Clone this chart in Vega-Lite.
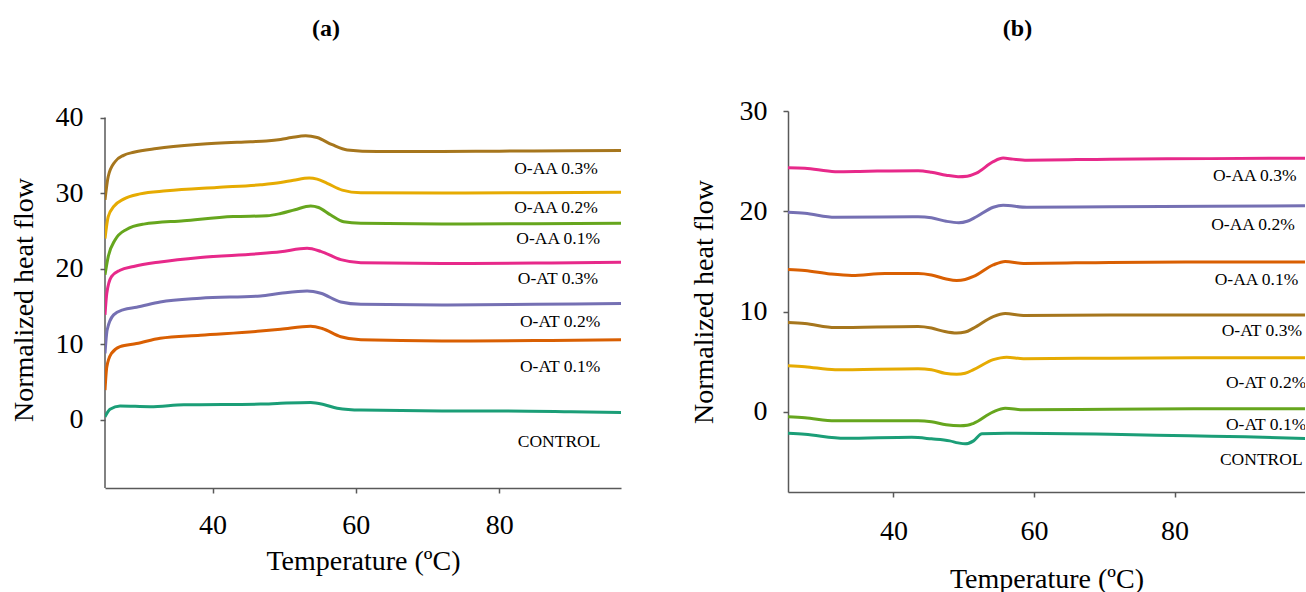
{
  "$schema": "https://vega.github.io/schema/vega-lite/v6.json",
  "background": "white",
  "padding": {"left": 10, "top": 16, "right": 0, "bottom": 0},
  "columns": 2,
  "align": "none",
  "spacing": 69,
  "resolve": {"scale": {"color": "independent"}},
  "config": {
    "font": "Liberation Serif",
    "view": {"stroke": null},
    "axis": {
      "grid": false,
      "domainColor": "#595959",
      "domainWidth": 1.5,
      "tickColor": "#595959",
      "tickWidth": 1.5,
      "tickSize": 5,
      "labelFont": "Liberation Serif",
      "labelFontSize": 28,
      "labelColor": "black",
      "titleFont": "Liberation Serif",
      "titleFontSize": 28,
      "titleFontWeight": "normal",
      "titleColor": "black"
    },
    "title": {"font": "Liberation Serif", "fontSize": 24, "fontWeight": "bold", "color": "black", "anchor": "middle", "baseline": "bottom"}
  },
  "datasets": {
    "a": [
      {"s": "O-AA 0.3%", "x": 25, "y": 29.1}, {"s": "O-AA 0.3%", "x": 25.45, "y": 32.2}, {"s": "O-AA 0.3%", "x": 26.4, "y": 34.15}, {"s": "O-AA 0.3%", "x": 27.6, "y": 35.0}, {"s": "O-AA 0.3%", "x": 29.0, "y": 35.4}, {"s": "O-AA 0.3%", "x": 32.2, "y": 35.9}, {"s": "O-AA 0.3%", "x": 38.3, "y": 36.45}, {"s": "O-AA 0.3%", "x": 45.3, "y": 36.8}, {"s": "O-AA 0.3%", "x": 47.5, "y": 36.9}, {"s": "O-AA 0.3%", "x": 49.5, "y": 37.1}, {"s": "O-AA 0.3%", "x": 51.0, "y": 37.35}, {"s": "O-AA 0.3%", "x": 53.0, "y": 37.6}, {"s": "O-AA 0.3%", "x": 54.6, "y": 37.35}, {"s": "O-AA 0.3%", "x": 56.7, "y": 36.4}, {"s": "O-AA 0.3%", "x": 58.8, "y": 35.7}, {"s": "O-AA 0.3%", "x": 63, "y": 35.5}, {"s": "O-AA 0.3%", "x": 72, "y": 35.5}, {"s": "O-AA 0.3%", "x": 80, "y": 35.55}, {"s": "O-AA 0.3%", "x": 90, "y": 35.6}, {"s": "O-AA 0.3%", "x": 97, "y": 35.65},
      {"s": "O-AA 0.2%", "x": 25, "y": 24.0}, {"s": "O-AA 0.2%", "x": 25.45, "y": 26.9}, {"s": "O-AA 0.2%", "x": 26.2, "y": 28.2}, {"s": "O-AA 0.2%", "x": 27.6, "y": 29.2}, {"s": "O-AA 0.2%", "x": 29.9, "y": 29.9}, {"s": "O-AA 0.2%", "x": 33.6, "y": 30.3}, {"s": "O-AA 0.2%", "x": 40.6, "y": 30.75}, {"s": "O-AA 0.2%", "x": 46.7, "y": 31.1}, {"s": "O-AA 0.2%", "x": 49.5, "y": 31.4}, {"s": "O-AA 0.2%", "x": 51.3, "y": 31.7}, {"s": "O-AA 0.2%", "x": 53.5, "y": 32.0}, {"s": "O-AA 0.2%", "x": 54.6, "y": 31.85}, {"s": "O-AA 0.2%", "x": 56, "y": 31.3}, {"s": "O-AA 0.2%", "x": 58.1, "y": 30.4}, {"s": "O-AA 0.2%", "x": 60.7, "y": 30.05}, {"s": "O-AA 0.2%", "x": 72, "y": 30.0}, {"s": "O-AA 0.2%", "x": 85, "y": 30.05}, {"s": "O-AA 0.2%", "x": 97, "y": 30.1},
      {"s": "O-AA 0.1%", "x": 25, "y": 19.2}, {"s": "O-AA 0.1%", "x": 25.45, "y": 21.6}, {"s": "O-AA 0.1%", "x": 26.4, "y": 23.8}, {"s": "O-AA 0.1%", "x": 28.0, "y": 25.2}, {"s": "O-AA 0.1%", "x": 30.4, "y": 25.9}, {"s": "O-AA 0.1%", "x": 36, "y": 26.35}, {"s": "O-AA 0.1%", "x": 42.9, "y": 26.9}, {"s": "O-AA 0.1%", "x": 47.6, "y": 27.0}, {"s": "O-AA 0.1%", "x": 49.5, "y": 27.3}, {"s": "O-AA 0.1%", "x": 51.5, "y": 27.8}, {"s": "O-AA 0.1%", "x": 53.7, "y": 28.3}, {"s": "O-AA 0.1%", "x": 54.8, "y": 28.1}, {"s": "O-AA 0.1%", "x": 56.5, "y": 27.1}, {"s": "O-AA 0.1%", "x": 58.3, "y": 26.2}, {"s": "O-AA 0.1%", "x": 60.7, "y": 26.0}, {"s": "O-AA 0.1%", "x": 72, "y": 25.9}, {"s": "O-AA 0.1%", "x": 85, "y": 25.95}, {"s": "O-AA 0.1%", "x": 97, "y": 26.0},
      {"s": "O-AT 0.3%", "x": 25, "y": 13.9}, {"s": "O-AT 0.3%", "x": 25.25, "y": 16.75}, {"s": "O-AT 0.3%", "x": 25.9, "y": 18.95}, {"s": "O-AT 0.3%", "x": 27.1, "y": 19.8}, {"s": "O-AT 0.3%", "x": 29, "y": 20.3}, {"s": "O-AT 0.3%", "x": 32.7, "y": 20.9}, {"s": "O-AT 0.3%", "x": 38.3, "y": 21.5}, {"s": "O-AT 0.3%", "x": 46.7, "y": 22.0}, {"s": "O-AT 0.3%", "x": 49.5, "y": 22.25}, {"s": "O-AT 0.3%", "x": 53.2, "y": 22.7}, {"s": "O-AT 0.3%", "x": 55.1, "y": 22.3}, {"s": "O-AT 0.3%", "x": 57.9, "y": 21.2}, {"s": "O-AT 0.3%", "x": 60.7, "y": 20.8}, {"s": "O-AT 0.3%", "x": 72, "y": 20.7}, {"s": "O-AT 0.3%", "x": 85, "y": 20.75}, {"s": "O-AT 0.3%", "x": 97, "y": 20.85},
      {"s": "O-AT 0.2%", "x": 25, "y": 8.8}, {"s": "O-AT 0.2%", "x": 25.3, "y": 11.9}, {"s": "O-AT 0.2%", "x": 26.2, "y": 13.9}, {"s": "O-AT 0.2%", "x": 27.6, "y": 14.6}, {"s": "O-AT 0.2%", "x": 29.4, "y": 14.9}, {"s": "O-AT 0.2%", "x": 32.7, "y": 15.6}, {"s": "O-AT 0.2%", "x": 38.3, "y": 16.1}, {"s": "O-AT 0.2%", "x": 46.7, "y": 16.4}, {"s": "O-AT 0.2%", "x": 49.5, "y": 16.75}, {"s": "O-AT 0.2%", "x": 53.2, "y": 17.05}, {"s": "O-AT 0.2%", "x": 55.1, "y": 16.75}, {"s": "O-AT 0.2%", "x": 57.9, "y": 15.6}, {"s": "O-AT 0.2%", "x": 60.7, "y": 15.3}, {"s": "O-AT 0.2%", "x": 72, "y": 15.2}, {"s": "O-AT 0.2%", "x": 85, "y": 15.3}, {"s": "O-AT 0.2%", "x": 97, "y": 15.4},
      {"s": "O-AT 0.1%", "x": 25, "y": 3.95}, {"s": "O-AT 0.1%", "x": 25.25, "y": 7.0}, {"s": "O-AT 0.1%", "x": 25.9, "y": 8.8}, {"s": "O-AT 0.1%", "x": 27.1, "y": 9.7}, {"s": "O-AT 0.1%", "x": 29.4, "y": 10.1}, {"s": "O-AT 0.1%", "x": 32.7, "y": 10.8}, {"s": "O-AT 0.1%", "x": 38.3, "y": 11.2}, {"s": "O-AT 0.1%", "x": 46.7, "y": 11.75}, {"s": "O-AT 0.1%", "x": 49.5, "y": 12.0}, {"s": "O-AT 0.1%", "x": 53.7, "y": 12.4}, {"s": "O-AT 0.1%", "x": 55.3, "y": 12.1}, {"s": "O-AT 0.1%", "x": 57.9, "y": 11.0}, {"s": "O-AT 0.1%", "x": 60.7, "y": 10.6}, {"s": "O-AT 0.1%", "x": 72, "y": 10.45}, {"s": "O-AT 0.1%", "x": 85, "y": 10.5}, {"s": "O-AT 0.1%", "x": 97, "y": 10.6},
      {"s": "CONTROL", "x": 25, "y": 0.4}, {"s": "CONTROL", "x": 25.7, "y": 1.4}, {"s": "CONTROL", "x": 27.1, "y": 1.85}, {"s": "CONTROL", "x": 31.3, "y": 1.75}, {"s": "CONTROL", "x": 36, "y": 2.0}, {"s": "CONTROL", "x": 46.7, "y": 2.1}, {"s": "CONTROL", "x": 49.5, "y": 2.2}, {"s": "CONTROL", "x": 53.7, "y": 2.3}, {"s": "CONTROL", "x": 55.5, "y": 2.05}, {"s": "CONTROL", "x": 57.4, "y": 1.55}, {"s": "CONTROL", "x": 60.7, "y": 1.3}, {"s": "CONTROL", "x": 72, "y": 1.2}, {"s": "CONTROL", "x": 80, "y": 1.2}, {"s": "CONTROL", "x": 90, "y": 1.1}, {"s": "CONTROL", "x": 97, "y": 1.0}
    ],
    "la": [
      {"t": "O-AA 0.3%", "x": 82.1, "y": 33.2},
      {"t": "O-AA 0.2%", "x": 82.1, "y": 28.0},
      {"t": "O-AA 0.1%", "x": 82.4, "y": 23.9},
      {"t": "O-AT 0.3%", "x": 82.6, "y": 18.6},
      {"t": "O-AT 0.2%", "x": 82.9, "y": 12.95},
      {"t": "O-AT 0.1%", "x": 82.9, "y": 7.0},
      {"t": "CONTROL", "x": 82.6, "y": -2.9}
    ],
    "ra": [
      {"x": 25, "y": -9, "y2": 40}
    ],
    "b": [
      {"s": "O-AA 0.3%", "x": 25, "y": 24.35}, {"s": "O-AA 0.3%", "x": 27.4, "y": 24.3}, {"s": "O-AA 0.3%", "x": 31.7, "y": 23.95}, {"s": "O-AA 0.3%", "x": 36.4, "y": 24.0}, {"s": "O-AA 0.3%", "x": 43.5, "y": 24.05}, {"s": "O-AA 0.3%", "x": 45.4, "y": 23.9}, {"s": "O-AA 0.3%", "x": 47.5, "y": 23.6}, {"s": "O-AA 0.3%", "x": 49.2, "y": 23.45}, {"s": "O-AA 0.3%", "x": 50.5, "y": 23.5}, {"s": "O-AA 0.3%", "x": 51.8, "y": 23.8}, {"s": "O-AA 0.3%", "x": 54.2, "y": 24.95}, {"s": "O-AA 0.3%", "x": 55.6, "y": 25.3}, {"s": "O-AA 0.3%", "x": 57, "y": 25.2}, {"s": "O-AA 0.3%", "x": 59, "y": 25.1}, {"s": "O-AA 0.3%", "x": 70.8, "y": 25.2}, {"s": "O-AA 0.3%", "x": 85, "y": 25.25}, {"s": "O-AA 0.3%", "x": 100, "y": 25.3},
      {"s": "O-AA 0.2%", "x": 25, "y": 19.9}, {"s": "O-AA 0.2%", "x": 27.4, "y": 19.8}, {"s": "O-AA 0.2%", "x": 31.7, "y": 19.4}, {"s": "O-AA 0.2%", "x": 43.5, "y": 19.45}, {"s": "O-AA 0.2%", "x": 45.4, "y": 19.35}, {"s": "O-AA 0.2%", "x": 47.5, "y": 19.0}, {"s": "O-AA 0.2%", "x": 49.3, "y": 18.85}, {"s": "O-AA 0.2%", "x": 50.5, "y": 19.0}, {"s": "O-AA 0.2%", "x": 51.8, "y": 19.45}, {"s": "O-AA 0.2%", "x": 54.2, "y": 20.4}, {"s": "O-AA 0.2%", "x": 55.6, "y": 20.6}, {"s": "O-AA 0.2%", "x": 59, "y": 20.4}, {"s": "O-AA 0.2%", "x": 70.8, "y": 20.45}, {"s": "O-AA 0.2%", "x": 85, "y": 20.5}, {"s": "O-AA 0.2%", "x": 100, "y": 20.55},
      {"s": "O-AA 0.1%", "x": 25, "y": 14.2}, {"s": "O-AA 0.1%", "x": 27.4, "y": 14.1}, {"s": "O-AA 0.1%", "x": 31, "y": 13.75}, {"s": "O-AA 0.1%", "x": 34.1, "y": 13.6}, {"s": "O-AA 0.1%", "x": 38.8, "y": 13.8}, {"s": "O-AA 0.1%", "x": 43.5, "y": 13.8}, {"s": "O-AA 0.1%", "x": 45.4, "y": 13.65}, {"s": "O-AA 0.1%", "x": 47.5, "y": 13.25}, {"s": "O-AA 0.1%", "x": 49.0, "y": 13.1}, {"s": "O-AA 0.1%", "x": 50.2, "y": 13.2}, {"s": "O-AA 0.1%", "x": 51.4, "y": 13.5}, {"s": "O-AA 0.1%", "x": 54.2, "y": 14.65}, {"s": "O-AA 0.1%", "x": 55.9, "y": 15.0}, {"s": "O-AA 0.1%", "x": 58.5, "y": 14.8}, {"s": "O-AA 0.1%", "x": 70.8, "y": 14.9}, {"s": "O-AA 0.1%", "x": 85, "y": 14.95}, {"s": "O-AA 0.1%", "x": 100, "y": 14.95},
      {"s": "O-AT 0.3%", "x": 25, "y": 8.9}, {"s": "O-AT 0.3%", "x": 27.4, "y": 8.8}, {"s": "O-AT 0.3%", "x": 31.7, "y": 8.4}, {"s": "O-AT 0.3%", "x": 43.5, "y": 8.5}, {"s": "O-AT 0.3%", "x": 45.4, "y": 8.35}, {"s": "O-AT 0.3%", "x": 47.3, "y": 8.0}, {"s": "O-AT 0.3%", "x": 49, "y": 7.85}, {"s": "O-AT 0.3%", "x": 50.2, "y": 7.95}, {"s": "O-AT 0.3%", "x": 51.4, "y": 8.35}, {"s": "O-AT 0.3%", "x": 54.2, "y": 9.5}, {"s": "O-AT 0.3%", "x": 55.9, "y": 9.8}, {"s": "O-AT 0.3%", "x": 58.5, "y": 9.6}, {"s": "O-AT 0.3%", "x": 70.8, "y": 9.65}, {"s": "O-AT 0.3%", "x": 85, "y": 9.65}, {"s": "O-AT 0.3%", "x": 100, "y": 9.65},
      {"s": "O-AT 0.2%", "x": 25, "y": 4.6}, {"s": "O-AT 0.2%", "x": 27.4, "y": 4.5}, {"s": "O-AT 0.2%", "x": 31.7, "y": 4.2}, {"s": "O-AT 0.2%", "x": 43.5, "y": 4.3}, {"s": "O-AT 0.2%", "x": 45.4, "y": 4.2}, {"s": "O-AT 0.2%", "x": 47.3, "y": 3.85}, {"s": "O-AT 0.2%", "x": 49, "y": 3.75}, {"s": "O-AT 0.2%", "x": 50.2, "y": 3.85}, {"s": "O-AT 0.2%", "x": 51.4, "y": 4.2}, {"s": "O-AT 0.2%", "x": 54.2, "y": 5.2}, {"s": "O-AT 0.2%", "x": 56.1, "y": 5.45}, {"s": "O-AT 0.2%", "x": 58.5, "y": 5.3}, {"s": "O-AT 0.2%", "x": 70.8, "y": 5.35}, {"s": "O-AT 0.2%", "x": 85, "y": 5.4}, {"s": "O-AT 0.2%", "x": 100, "y": 5.4},
      {"s": "O-AT 0.1%", "x": 25, "y": -0.5}, {"s": "O-AT 0.1%", "x": 27.4, "y": -0.6}, {"s": "O-AT 0.1%", "x": 31.7, "y": -0.9}, {"s": "O-AT 0.1%", "x": 43.5, "y": -0.9}, {"s": "O-AT 0.1%", "x": 45.4, "y": -1.0}, {"s": "O-AT 0.1%", "x": 47.5, "y": -1.3}, {"s": "O-AT 0.1%", "x": 49.5, "y": -1.4}, {"s": "O-AT 0.1%", "x": 50.5, "y": -1.35}, {"s": "O-AT 0.1%", "x": 51.4, "y": -1.15}, {"s": "O-AT 0.1%", "x": 54.2, "y": 0.0}, {"s": "O-AT 0.1%", "x": 55.9, "y": 0.35}, {"s": "O-AT 0.1%", "x": 58.5, "y": 0.2}, {"s": "O-AT 0.1%", "x": 70.8, "y": 0.25}, {"s": "O-AT 0.1%", "x": 85, "y": 0.3}, {"s": "O-AT 0.1%", "x": 100, "y": 0.3},
      {"s": "CONTROL", "x": 25, "y": -2.15}, {"s": "CONTROL", "x": 27.4, "y": -2.25}, {"s": "CONTROL", "x": 33.1, "y": -2.65}, {"s": "CONTROL", "x": 42.6, "y": -2.55}, {"s": "CONTROL", "x": 45.4, "y": -2.7}, {"s": "CONTROL", "x": 48.0, "y": -2.9}, {"s": "CONTROL", "x": 49.2, "y": -3.1}, {"s": "CONTROL", "x": 50.2, "y": -3.2}, {"s": "CONTROL", "x": 51.4, "y": -2.9}, {"s": "CONTROL", "x": 52.6, "y": -2.2}, {"s": "CONTROL", "x": 56.1, "y": -2.15}, {"s": "CONTROL", "x": 70.8, "y": -2.25}, {"s": "CONTROL", "x": 82, "y": -2.4}, {"s": "CONTROL", "x": 90, "y": -2.5}, {"s": "CONTROL", "x": 100, "y": -2.7}
    ],
    "lb": [
      {"t": "O-AA 0.3%", "x": 85.45, "y": 23.5},
      {"t": "O-AA 0.2%", "x": 85.2, "y": 18.6},
      {"t": "O-AA 0.1%", "x": 85.7, "y": 13.15},
      {"t": "O-AT 0.3%", "x": 86.7, "y": 8.07},
      {"t": "O-AT 0.2%", "x": 87.3, "y": 2.9},
      {"t": "O-AT 0.1%", "x": 87.3, "y": -1.3},
      {"t": "CONTROL", "x": 86.45, "y": -4.8}
    ]
  },
  "concat": [
    {
      "width": 516,
      "height": 377,
      "title": {"text": "(a)", "offset": 63, "dx": -37},
      "layer": [
        {
          "data": {"name": "ra"},
          "mark": {"type": "rule", "color": "#595959", "strokeWidth": 1.5},
          "encoding": {
            "x": {"field": "x", "type": "quantitative"},
            "y": {"field": "y", "type": "quantitative"},
            "y2": {"field": "y2"}
          }
        },
        {
          "data": {"name": "a"},
          "mark": {"type": "line", "interpolate": "monotone", "strokeWidth": 3, "clip": true},
          "encoding": {
            "x": {"field": "x", "type": "quantitative", "scale": {"domain": [25, 97], "nice": false, "zero": false},
              "axis": {"title": "Temperature (ºC)", "values": [40, 60, 80], "labelPadding": 18, "titlePadding": 8}},
            "y": {"field": "y", "type": "quantitative", "scale": {"domain": [-9, 40.86], "nice": false, "zero": false},
              "axis": {"title": "Normalized heat flow", "values": [0, 10, 20, 30, 40], "labelPadding": 17, "titlePadding": 17, "domain": false}},
            "color": {"field": "s", "type": "nominal", "legend": null,
              "scale": {"domain": ["CONTROL", "O-AT 0.1%", "O-AT 0.2%", "O-AT 0.3%", "O-AA 0.1%", "O-AA 0.2%", "O-AA 0.3%"],
                "range": ["#1b9e77", "#d95f02", "#7570b3", "#e7298a", "#66a61e", "#e6ab02", "#a6761d"]}}
          }
        },
        {
          "data": {"name": "la"},
          "mark": {"type": "text", "align": "left", "baseline": "middle", "fontSize": 17.5, "font": "Liberation Serif", "color": "black", "clip": true},
          "encoding": {
            "x": {"field": "x", "type": "quantitative"},
            "y": {"field": "y", "type": "quantitative"},
            "text": {"field": "t"}
          }
        }
      ]
    },
    {
      "width": 517,
      "height": 381,
      "title": {"text": "(b)", "offset": 56, "dx": -29},
      "layer": [
        {
          "data": {"name": "b"},
          "mark": {"type": "line", "interpolate": "monotone", "strokeWidth": 3, "clip": true},
          "encoding": {
            "x": {"field": "x", "type": "quantitative", "scale": {"domain": [25, 98.55], "nice": false, "zero": false},
              "axis": {"title": "Temperature (ºC)", "values": [40, 60, 80], "labelPadding": 20, "titlePadding": 20}},
            "y": {"field": "y", "type": "quantitative", "scale": {"domain": [-8, 30], "nice": false, "zero": false},
              "axis": {"title": "Normalized heat flow", "values": [0, 10, 20, 30], "labelPadding": 16, "titlePadding": 21}},
            "color": {"field": "s", "type": "nominal", "legend": null,
              "scale": {"domain": ["CONTROL", "O-AT 0.1%", "O-AT 0.2%", "O-AT 0.3%", "O-AA 0.1%", "O-AA 0.2%", "O-AA 0.3%"],
                "range": ["#1b9e77", "#66a61e", "#e6ab02", "#a6761d", "#d95f02", "#7570b3", "#e7298a"]}}
          }
        },
        {
          "data": {"name": "lb"},
          "mark": {"type": "text", "align": "left", "baseline": "middle", "fontSize": 17.5, "font": "Liberation Serif", "color": "black", "clip": true},
          "encoding": {
            "x": {"field": "x", "type": "quantitative"},
            "y": {"field": "y", "type": "quantitative"},
            "text": {"field": "t"}
          }
        }
      ]
    }
  ]
}
